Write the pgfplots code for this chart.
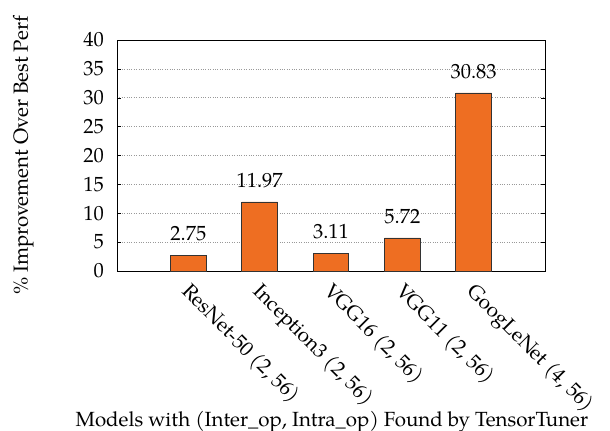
\documentclass[border=0pt]{standalone}
\usepackage{fontspec}
\setmainfont{TeX Gyre Pagella}
\usepackage{pgfplots}
\pgfplotsset{compat=1.18}
\definecolor{barorange}{HTML}{EE6E22}
\begin{document}
\fontsize{20.5bp}{24bp}\selectfont
\begin{tikzpicture}
\begin{axis}[
  at={(117bp,-271bp)}, anchor=south west,
  scale only axis, width=428bp, height=231bp,
  xmin=-1, xmax=5, ymin=0, ymax=40,
  ytick={0,5,...,40},
  xtick={0,1,2,3,4},
  /pgf/number format/assume math mode=true,
  xticklabels={ResNet-50 (2{,} 56), Inception3 (2{,} 56), VGG16 (2{,} 56), VGG11 (2{,} 56), GoogLeNet (4{,} 56)},
  xticklabel style={rotate=-45, anchor=north west, inner sep=1bp, xshift=6bp, yshift=-1bp},
  major x tick style={draw=none},
  tick align=inside,
  ytick pos=both,
  major tick length=4bp,
  ymajorgrids,
  grid style={dotted, gray!80, line width=0.6pt},
  axis line style={line width=0.8pt},
  tick style={black, line width=0.5pt},
  yticklabel style={xshift=-6bp},
  ylabel={\% Improvement Over Best Perf},
  xlabel={Models with (Inter\_op, Intra\_op) Found by TensorTuner},
  every axis y label/.style={at={(axis description cs:-0.208,0.5)}, rotate=90, anchor=base},
  every axis x label/.style={at={(axis description cs:0.502,-0.671)}, anchor=base},
  ybar, bar width=0.5,
  nodes near coords,
  every node near coord/.append style={anchor=south, yshift=7bp, /pgf/number format/fixed, /pgf/number format/precision=2, /pgf/number format/fixed zerofill},
]
\addplot[fill=barorange, draw=black!80, line width=0.7pt] coordinates {(0,2.75) (1,11.97) (2,3.11) (3,5.72) (4,30.83)};
\end{axis}
\pgfresetboundingbox
\path (0,0) rectangle (610bp,-431bp);
\end{tikzpicture}
\end{document}
